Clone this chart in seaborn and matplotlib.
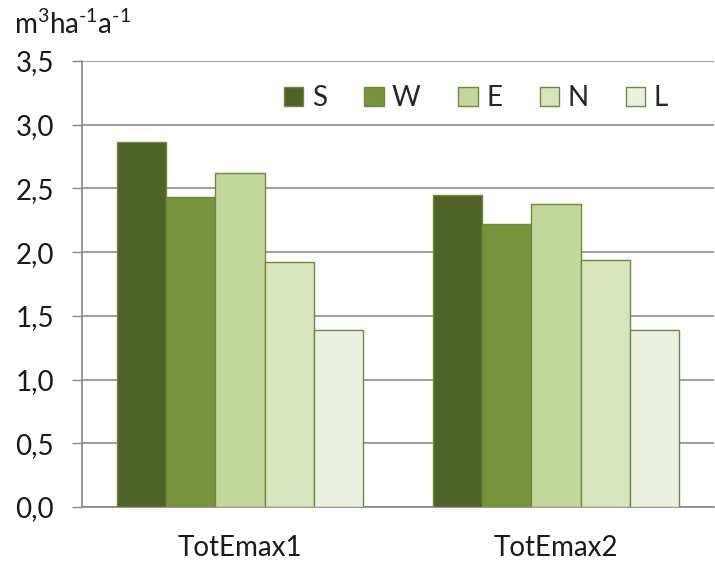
import matplotlib
matplotlib.use("Agg")
import matplotlib.pyplot as plt
import seaborn as sns
import pandas as pd

categories = ["TotEmax1", "TotEmax2"]
series = ["S", "W", "E", "N", "L"]
S = [2.865, 2.45]
W = [2.43, 2.22]
E = [2.62, 2.38]
N = [1.925, 1.94]
L = [1.39, 1.39]
yticks = [0.0, 0.5, 1.0, 1.5, 2.0, 2.5, 3.0, 3.5]
ytick_labels = ["0,0", "0,5", "1,0", "1,5", "2,0", "2,5", "3,0", "3,5"]
colors = ["#4F6228", "#77933C", "#C3D69B", "#D7E4BD", "#EBF1DE"]

rows = []
for name, vals in zip(series, [S, W, E, N, L]):
    for c, v in zip(categories, vals):
        rows.append({"cat": c, "series": name, "value": v})
df = pd.DataFrame(rows)

sns.set_theme(style="white")
plt.rcParams["font.family"] = ["Lato", "DejaVu Sans"]
plt.rcParams["mathtext.fontset"] = "custom"
plt.rcParams["mathtext.rm"] = "Lato"
plt.rcParams["mathtext.default"] = "regular"

FS = 20
TXT = "#1a1a1a"

fig = plt.figure(figsize=(7.15, 5.62), dpi=100)
ax = fig.add_axes([82/715, 1-507/562, (714-82)/715, (507-61)/562])

sns.barplot(data=df, x="cat", y="value", hue="series", hue_order=series,
            palette=colors, width=0.78, gap=0, ax=ax, saturation=1,
            edgecolor="#6E8A3C", linewidth=1, zorder=3)

ax.set_xlim(-0.5, 1.5)
ax.set_ylim(0, 3.5)
ax.set_yticks(yticks)
ax.set_yticklabels(ytick_labels, fontsize=FS, color=TXT)
ax.set_xticks([0, 1])
ax.set_xticklabels(categories, fontsize=FS, color=TXT)
ax.set_xticks([-0.5, 0.5, 1.5], minor=True)
ax.tick_params(axis="x", which="major", length=0, pad=20)
ax.tick_params(axis="x", which="minor", length=7, color="#888888", width=1, direction="out")
ax.tick_params(axis="y", length=7, color="#888888", width=1, direction="out", pad=13, left=True)
ax.grid(axis="y", color="#8C8C8C", linewidth=1.2, zorder=0)
ax.set_axisbelow(True)
ax.set_xlabel("")
ax.set_ylabel("")
for s in ["top", "right"]:
    ax.spines[s].set_visible(False)
for s in ["left", "bottom"]:
    ax.spines[s].set_color("#888888")
    ax.spines[s].set_linewidth(1.2)

handles, labels = ax.get_legend_handles_labels()
ax.legend(handles, labels, ncol=5, loc="center left",
          bbox_to_anchor=((284-82)/632, 1-(98-61)/446),
          frameon=False, fontsize=FS, handlelength=0.7, handleheight=0.7,
          handletextpad=0.3, columnspacing=1.35, borderpad=0, borderaxespad=0)

fig.text(14/715, 1-24/562, "m$^{3}$ha$^{\u2010 1}$a$^{\u2010 1}$", fontsize=FS, color=TXT,
         va="center", ha="left")

fig.savefig("out.png", dpi=100)
